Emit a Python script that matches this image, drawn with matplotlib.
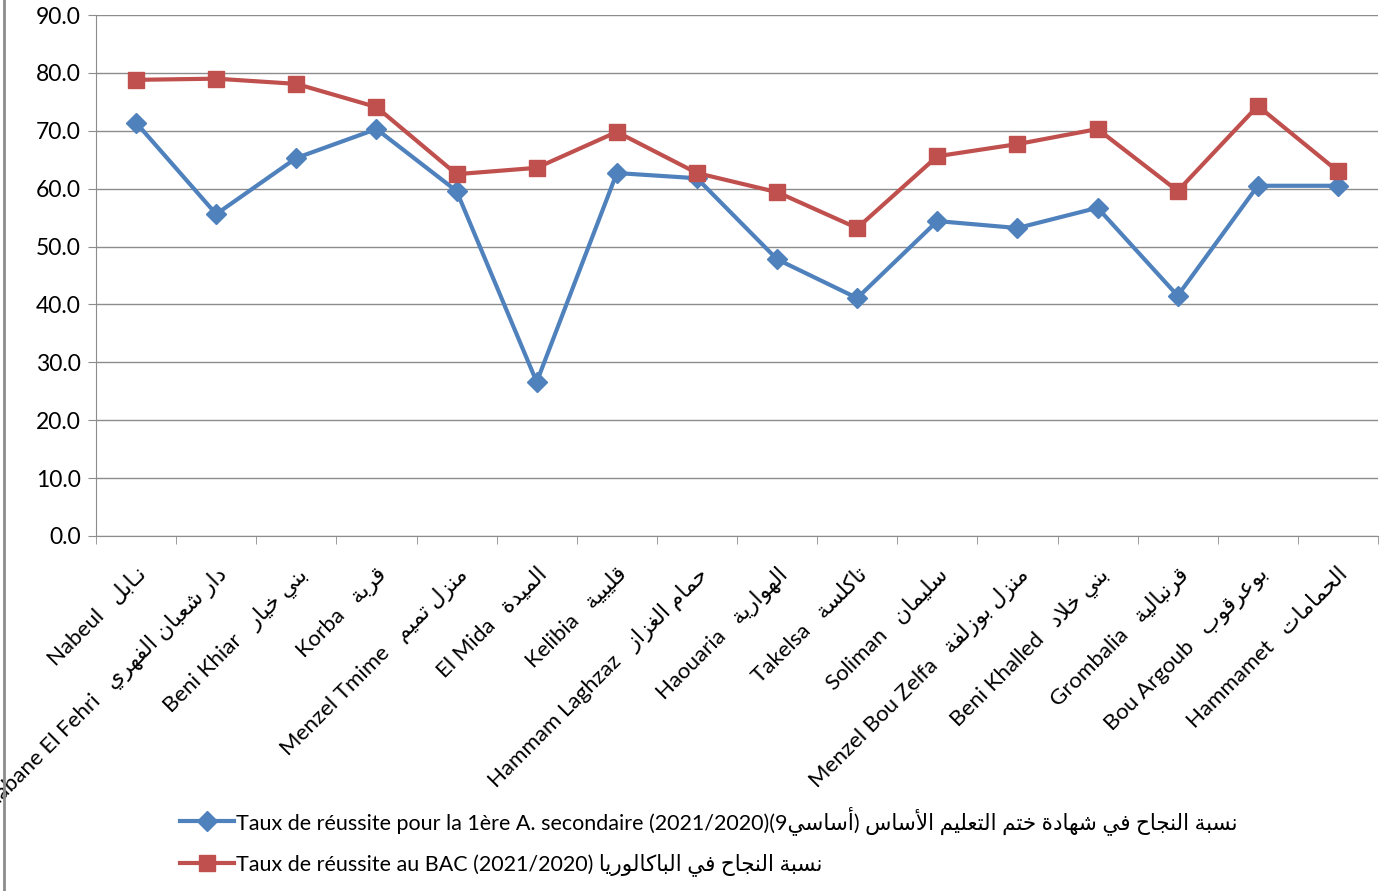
import matplotlib
matplotlib.use("Agg")
import matplotlib.pyplot as plt
from matplotlib.lines import Line2D

# Données
villes_fr = ["Nabeul", "Dar Chaabane El Fehri", "Beni Khiar", "Korba", "Menzel Tmime",
             "El Mida", "Kelibia", "Hammam Laghzaz", "Haouaria", "Takelsa", "Soliman",
             "Menzel Bou Zelfa", "Beni Khalled", "Grombalia", "Bou Argoub", "Hammamet"]
villes_ar = ["نـابل", "دار شعبان الفهري", "بني خيار", "قربة", "منزل تميم", "الميدة",
             "قليبية", "حمام الغزاز", "الهوارية", "تاكلسة", "سليمان", "منزل بوزلفة",
             "بني خلاد", "قرنبالية", "بوعرقوب", "الحمامات"]
taux_9eme = [71.4, 55.6, 65.3, 70.3, 59.6, 26.6, 62.7, 61.8, 47.8, 41.1, 54.4, 53.2,
             56.7, 41.5, 60.5, 60.5]
taux_bac = [78.8, 79.0, 78.1, 74.1, 62.5, 63.6, 69.8, 62.7, 59.4, 53.2, 65.6, 67.7,
            70.3, 59.6, 74.3, 63.0]
yticks = [0, 10, 20, 30, 40, 50, 60, 70, 80, 90]

# Mise en forme de l'arabe (matplotlib ne fait ni liaison ni bidi)
FORMS = {
    'ا': (0xFE8D, 0xFE8E, None, None), 'أ': (0xFE83, 0xFE84, None, None),
    'ب': (0xFE8F, 0xFE90, 0xFE91, 0xFE92), 'ة': (0xFE93, 0xFE94, None, None),
    'ت': (0xFE95, 0xFE96, 0xFE97, 0xFE98), 'ج': (0xFE9D, 0xFE9E, 0xFE9F, 0xFEA0),
    'ح': (0xFEA1, 0xFEA2, 0xFEA3, 0xFEA4), 'خ': (0xFEA5, 0xFEA6, 0xFEA7, 0xFEA8),
    'د': (0xFEA9, 0xFEAA, None, None), 'ر': (0xFEAD, 0xFEAE, None, None),
    'ز': (0xFEAF, 0xFEB0, None, None), 'س': (0xFEB1, 0xFEB2, 0xFEB3, 0xFEB4),
    'ش': (0xFEB5, 0xFEB6, 0xFEB7, 0xFEB8), 'ع': (0xFEC9, 0xFECA, 0xFECB, 0xFECC),
    'غ': (0xFECD, 0xFECE, 0xFECF, 0xFED0), 'ف': (0xFED1, 0xFED2, 0xFED3, 0xFED4),
    'ق': (0xFED5, 0xFED6, 0xFED7, 0xFED8), 'ك': (0xFED9, 0xFEDA, 0xFEDB, 0xFEDC),
    'ل': (0xFEDD, 0xFEDE, 0xFEDF, 0xFEE0), 'م': (0xFEE1, 0xFEE2, 0xFEE3, 0xFEE4),
    'ن': (0xFEE5, 0xFEE6, 0xFEE7, 0xFEE8), 'ه': (0xFEE9, 0xFEEA, 0xFEEB, 0xFEEC),
    'و': (0xFEED, 0xFEEE, None, None), 'ي': (0xFEF1, 0xFEF2, 0xFEF3, 0xFEF4),
}
TATWEEL = 'ـ'
LAM_ALEF = {'ا': (0xFEFB, 0xFEFC), 'أ': (0xFEF7, 0xFEF8)}


def joins_next(u):
    kind, c = u
    if kind == 'LA':
        return False
    if c == TATWEEL:
        return True
    return c in FORMS and FORMS[c][2] is not None


def joins_prev(u):
    kind, c = u
    return kind == 'LA' or c == TATWEEL or c in FORMS


def ar(text):
    units = []
    i = 0
    while i < len(text):
        if text[i] == 'ل' and i + 1 < len(text) and text[i + 1] in LAM_ALEF:
            units.append(('LA', text[i + 1]))
            i += 2
        else:
            units.append(('C', text[i]))
            i += 1
    out = []
    for k, u in enumerate(units):
        prev = k > 0 and joins_next(units[k - 1]) and joins_prev(u)
        nxt = k + 1 < len(units) and joins_next(u) and joins_prev(units[k + 1])
        kind, c = u
        if kind == 'LA':
            out.append(chr(LAM_ALEF[c][1 if prev else 0]))
        elif c in FORMS:
            iso, fin, ini, med = FORMS[c]
            g = med if (prev and nxt) else fin if prev else ini if nxt else iso
            out.append(chr(g))
        else:
            out.append(c)
    return ''.join(out)[::-1]


plt.rcParams['font.family'] = ['Lato', 'DejaVu Sans']

fig = plt.figure(figsize=(13.94, 8.91), dpi=100)
ax = fig.add_axes([96 / 1394, (891 - 536) / 891, (1378 - 96) / 1394, (536 - 15) / 891])

x = range(len(villes_fr))
l1, = ax.plot(x, taux_9eme, color='#4F81BD', lw=3, marker='D', markersize=10.5,
              label="Taux de réussite pour la 1ère A. secondaire (2021/2020)(9" + ar("أساسي") + ") "
                    + ar("نسبة النجاح في شهادة ختم التعليم الأساس"))
l2, = ax.plot(x, taux_bac, color='#C0504D', lw=3, marker='s', markersize=11.5,
              label="Taux de réussite au BAC (2021/2020) " + ar("نسبة النجاح في الباكالوريا"))

ax.set_xlim(-0.5, len(villes_fr) - 0.5)
ax.set_ylim(0, 90)
ax.set_yticks(yticks)
ax.set_yticklabels([f"{v:.1f}" for v in yticks], fontsize=16.5)
ax.yaxis.grid(True, color='#8c8c8c', lw=1)
ax.set_axisbelow(True)

ax.set_xticks(list(x))
ax.set_xticklabels([f + "   " + ar(a) for f, a in zip(villes_fr, villes_ar)],
                   rotation=45, ha='right', va='top', rotation_mode='anchor', fontsize=16)
ax.set_xticks([i - 0.5 for i in range(len(villes_fr) + 1)], minor=True)
ax.tick_params(axis='x', which='major', length=0, pad=20)
ax.tick_params(axis='x', which='minor', length=6, color='#8c8c8c')
ax.tick_params(axis='y', length=6, color='#8c8c8c', pad=5)

for s in ['top', 'right']:
    ax.spines[s].set_visible(False)
for s in ['left', 'bottom']:
    ax.spines[s].set_color('#8c8c8c')

ax.legend(handles=[l1, l2], loc='center left', bbox_to_anchor=(180 / 1394, 50 / 891),
          bbox_transform=fig.transFigure, frameon=False, fontsize=15.5, handlelength=2.5,
          handletextpad=0.1, labelspacing=0.85, borderaxespad=0, borderpad=0)

fig.add_artist(Line2D([0.003, 0.003], [0, 1], color='#8c8c8c', lw=2, transform=fig.transFigure))

fig.savefig("out.png", dpi=100)
